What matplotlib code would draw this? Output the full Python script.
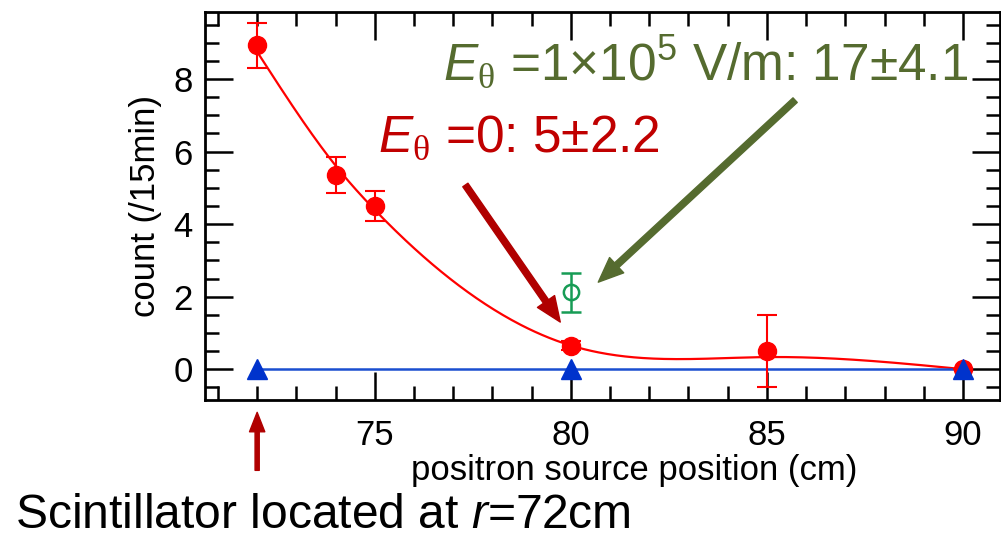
import numpy as np
import matplotlib
matplotlib.use("Agg")
import matplotlib.pyplot as plt

plt.rcParams['font.family'] = ['Liberation Sans', 'DejaVu Sans']
plt.rcParams['mathtext.fontset'] = 'custom'
plt.rcParams['mathtext.rm'] = 'Liberation Sans'
plt.rcParams['mathtext.it'] = 'Liberation Sans:italic'
plt.rcParams['mathtext.sf'] = 'Liberation Serif'

# データ
pos_e0 = [72, 74, 75, 80, 85, 90]
cnt_e0 = [8.94, 5.35, 4.5, 0.65, 0.5, 0.0]
err_e0 = [0.62, 0.5, 0.42, 0.12, 1.0, 0.0]

pos_bg = [72, 80, 90]
cnt_bg = [0.0, 0.0, 0.0]

pos_e1 = [80]
cnt_e1 = [2.12]
err_e1 = [0.53]

label_e0 = r'$\mathit{E}_{\mathsf{θ}}$ =0: 5±2.2'
label_e1 = r'$\mathit{E}_{\mathsf{θ}}$ =1×10$^5$ V/m: 17±4.1'


def smooth_spline(x, y, sig, lam, xs):
    # 重み付きスムージングスプライン (Reinsch)
    x = np.asarray(x, float)
    y = np.asarray(y, float)
    n = len(x)
    h = np.diff(x)
    Q = np.zeros((n, n - 2))
    R = np.zeros((n - 2, n - 2))
    for j in range(1, n - 1):
        Q[j - 1, j - 1] = 1 / h[j - 1]
        Q[j, j - 1] = -1 / h[j - 1] - 1 / h[j]
        Q[j + 1, j - 1] = 1 / h[j]
        R[j - 1, j - 1] = (h[j - 1] + h[j]) / 3
        if j < n - 2:
            R[j - 1, j] = h[j] / 6
            R[j, j - 1] = h[j] / 6
    W = np.diag(1 / np.asarray(sig, float) ** 2)
    K = Q @ np.linalg.solve(R, Q.T)
    g = np.linalg.solve(W + lam * K, W @ y)
    gam = np.zeros(n)
    gam[1:-1] = np.linalg.solve(R, Q.T @ g)
    out = np.zeros_like(xs)
    for i in range(n - 1):
        m = (xs >= x[i]) & (xs <= x[i + 1])
        a = xs[m] - x[i]
        b = x[i + 1] - xs[m]
        out[m] = (a * g[i + 1] + b * g[i]) / h[i] - a * b / 6 * (
            (1 + a / h[i]) * gam[i + 1] + (1 + b / h[i]) * gam[i])
    return out


fig = plt.figure(figsize=(10.01, 5.37), dpi=100)
ax = fig.add_axes([0.2048, 0.2551, 0.794, 0.7225])

xs = np.linspace(72, 90, 400)
sig_fit = [max(e, 0.15) for e in err_e0]
ax.plot(xs, smooth_spline(pos_e0, cnt_e0, sig_fit, 3.0, xs), color='#ff0000', lw=1.6, zorder=3)

ax.plot(pos_bg, cnt_bg, color='#1a4fd0', lw=1.8, zorder=4)
ax.plot(pos_bg, cnt_bg, '^', color='#0033cc', ms=14, zorder=6, clip_on=False)

ax.errorbar(pos_e0, cnt_e0, yerr=err_e0, fmt='o', color='#ff0000', ms=13,
            elinewidth=1.5, capsize=7, capthick=1.5, zorder=5, clip_on=False)

ax.errorbar(pos_e1, cnt_e1, yerr=err_e1, fmt='o', color='#179c55', mfc='none',
            mec='#179c55', mew=1.8, ms=11, elinewidth=1.8, capsize=7, capthick=1.8, zorder=5)

ax.set_xlim(70.67, 90.94)
ax.set_ylim(-0.85, 9.85)
ax.set_xticks([75, 80, 85, 90])
ax.set_xticks(np.arange(71, 91), minor=True)
ax.set_yticks([0, 2, 4, 6, 8])
ax.set_yticks(np.arange(-0.5, 9.9, 0.5), minor=True)

for s in ax.spines.values():
    s.set_linewidth(2)
ax.tick_params(which='both', direction='in', top=True, right=True, width=1.8,
               labelsize=25)
ax.tick_params(which='major', length=20)
ax.tick_params(which='minor', length=10)
ax.tick_params(axis='x', pad=14)
ax.tick_params(axis='y', pad=9)

ax.set_ylabel('count (/15min)', fontsize=25, labelpad=8)
fig.text(634 / 1001, 1 - 480 / 537, 'positron source position (cm)', fontsize=25,
         ha='center', va='baseline')
fig.text(15 / 1001, 1 - 528 / 537, 'Scintillator located at $\\mathit{r}$=72cm',
         fontsize=34.6, ha='left', va='baseline')

ax.text(75.09, 5.99, label_e0, color='#c00000', fontsize=37, va='baseline', ha='left')
ax.text(76.74, 7.94, label_e1, color='#556b2f', fontsize=37, va='baseline', ha='left')

ax.annotate('', xy=(79.73, 1.30), xytext=(77.31, 5.08),
            arrowprops=dict(facecolor='#b00000', edgecolor='#b00000', width=4.5,
                            headwidth=15, headlength=18, shrink=0))
ax.annotate('', xy=(80.70, 2.40), xytext=(85.72, 7.42),
            arrowprops=dict(facecolor='#556b2f', edgecolor='#556b2f', width=4.5,
                            headwidth=15, headlength=18, shrink=0))
ax.annotate('', xy=(72, -1.19), xytext=(72, -2.79), annotation_clip=False,
            arrowprops=dict(facecolor='#b00000', edgecolor='#b00000', width=3,
                            headwidth=11, headlength=14, shrink=0))

fig.savefig('out.png', dpi=100)
